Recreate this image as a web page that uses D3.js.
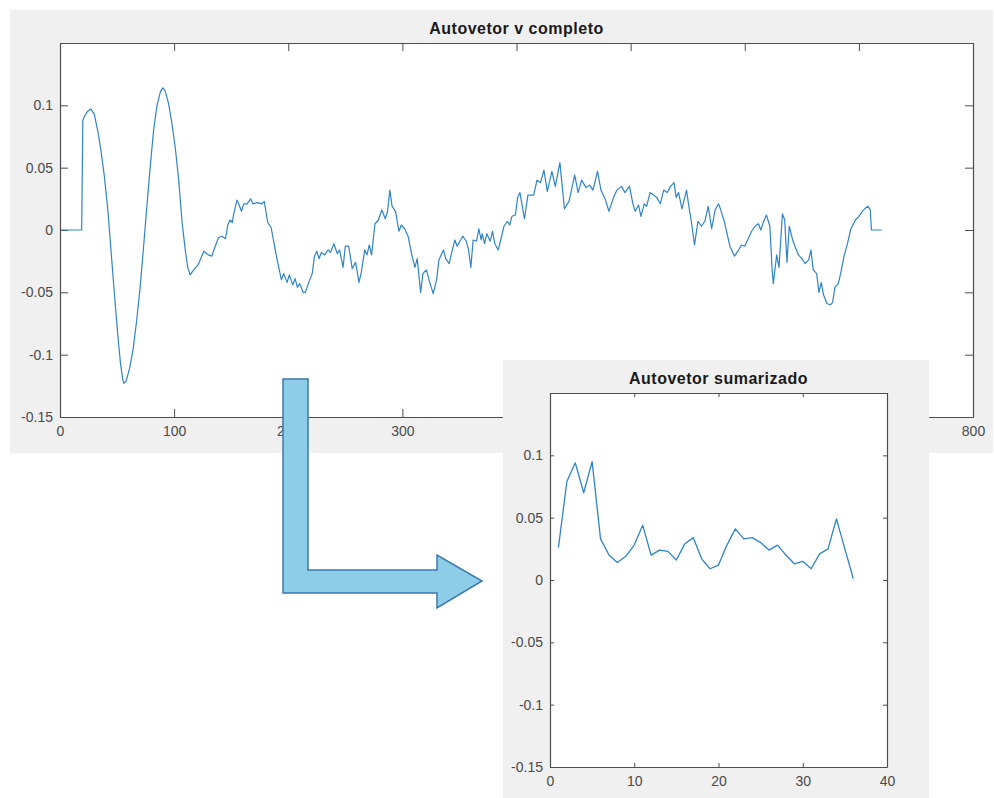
<!DOCTYPE html>
<html>
<head>
<meta charset="utf-8">
<script src="https://cdn.jsdelivr.net/npm/d3@7"></script>
<style>
  html, body { margin: 0; padding: 0; background: #ffffff; }
  svg { display: block; }
  .tick text { font-family: "Liberation Sans", Arial, sans-serif; font-size: 14px; fill: #4a4a4a; }
  .title { font-family: "Liberation Sans", Arial, sans-serif; font-size: 16px; font-weight: bold; fill: #1a1a1a; letter-spacing: 0.5px; }
</style>
</head>
<body>
<svg id="fig" width="994" height="798"></svg>
<script>
// Full eigenvector: [index, value]
const autovetorCompleto = [
  [1,0],[19,0],[20,0.088],[22,0.092],[24,0.095],[27,0.097],[30,0.093],[33,0.080],[36,0.063],[39,0.042],
  [42,0.015],[45,-0.020],[48,-0.055],[51,-0.088],[53,-0.107],[55,-0.120],[56,-0.123],[58,-0.121],[61,-0.111],
  [64,-0.096],[67,-0.074],[70,-0.048],[73,-0.016],[76,0.018],[79,0.050],[82,0.080],[85,0.100],[88,0.111],
  [90,0.114],[92,0.112],[95,0.102],[98,0.086],[101,0.066],[104,0.040],[107,0.006],[110,-0.018],[112,-0.030],
  [114,-0.036],[118,-0.031],[121,-0.028],[126,-0.017],[130,-0.020],[133,-0.021],[136,-0.013],[139,-0.006],
  [142,-0.005],[145,-0.007],[147,0.004],[149,0.008],[151,0.006],[152,0.012],[155,0.024],[157,0.020],[159,0.015],
  [161,0.021],[164,0.021],[167,0.025],[169,0.021],[173,0.022],[177,0.021],[179,0.023],[182,0.006],[185,0.002],
  [188,-0.013],[191,-0.027],[194,-0.040],[196,-0.035],[199,-0.042],[201,-0.036],[204,-0.044],[206,-0.039],
  [208,-0.046],[210,-0.043],[213,-0.050],[215,-0.050],[218,-0.042],[221,-0.035],[223,-0.021],[225,-0.017],
  [227,-0.023],[229,-0.018],[232,-0.020],[235,-0.016],[237,-0.018],[240,-0.011],[243,-0.019],[245,-0.016],
  [248,-0.030],[250,-0.013],[253,-0.013],[256,-0.031],[259,-0.026],[262,-0.042],[264,-0.034],[267,-0.016],
  [269,-0.020],[271,-0.012],[273,-0.020],[276,0.005],[279,0.008],[282,0.016],[285,0.009],[287,0.015],
  [289,0.032],[291,0.019],[294,0.015],[297,-0.001],[299,0.004],[302,0.001],[305,-0.005],[308,-0.019],
  [311,-0.030],[313,-0.023],[316,-0.050],[318,-0.035],[321,-0.032],[324,-0.042],[327,-0.051],[330,-0.040],
  [332,-0.024],[336,-0.016],[338,-0.023],[341,-0.027],[343,-0.019],[346,-0.008],[348,-0.013],[351,-0.008],
  [353,-0.005],[356,-0.009],[358,-0.016],[360,-0.030],[362,-0.008],[365,-0.009],[367,0.001],[369,-0.008],
  [370,-0.003],[372,-0.011],[374,-0.003],[377,-0.009],[379,-0.001],[381,-0.011],[384,-0.016],[387,-0.005],
  [389,0.003],[392,0.007],[394,0.004],[396,0.011],[399,0.012],[401,0.026],[403,0.030],[407,0.009],[410,0.028],
  [415,0.028],[418,0.040],[421,0.038],[424,0.048],[427,0.031],[431,0.047],[434,0.035],[438,0.054],[442,0.017],
  [446,0.023],[451,0.044],[454,0.030],[457,0.040],[461,0.034],[464,0.036],[467,0.032],[471,0.047],[474,0.032],
  [478,0.024],[481,0.015],[485,0.026],[488,0.032],[492,0.035],[495,0.030],[499,0.035],[502,0.021],[504,0.015],
  [507,0.020],[509,0.011],[512,0.021],[514,0.019],[517,0.030],[520,0.028],[523,0.026],[526,0.021],[529,0.032],
  [532,0.030],[535,0.035],[538,0.038],[540,0.026],[542,0.030],[545,0.017],[549,0.032],[551,0.019],[553,0.008],
  [556,-0.012],[559,0.007],[562,0.003],[565,0.007],[568,0.019],[571,0.001],[574,0.016],[577,0.021],[579,0.016],
  [582,0.007],[584,-0.001],[587,-0.013],[591,-0.021],[594,-0.017],[597,-0.012],[600,-0.013],[603,-0.007],
  [606,-0.001],[609,0.003],[612,0.005],[614,0.000],[617,0.008],[619,0.012],[622,0.003],[624,-0.032],
  [625,-0.043],[628,-0.020],[630,-0.030],[633,0.013],[635,0.008],[637,-0.026],[639,0.003],[642,-0.008],
  [644,-0.013],[647,-0.020],[650,-0.023],[653,-0.027],[656,-0.024],[658,-0.016],[660,-0.032],[663,-0.035],
  [665,-0.050],[667,-0.042],[669,-0.052],[672,-0.059],[675,-0.060],[677,-0.058],[679,-0.046],[682,-0.043],
  [684,-0.035],[687,-0.021],[690,-0.011],[693,0.001],[697,0.008],[700,0.011],[703,0.015],[705,0.017],
  [708,0.019],[710,0.016],[711,0],[720,0]
];

// Summarized eigenvector: one value per block (1..36)
const autovetorSumarizado = [
  0.026, 0.079, 0.094, 0.070, 0.095, 0.033, 0.020, 0.014, 0.019, 0.028,
  0.044, 0.020, 0.024, 0.023, 0.016, 0.029, 0.034, 0.017, 0.009, 0.012,
  0.028, 0.041, 0.033, 0.034, 0.030, 0.024, 0.028, 0.020, 0.013, 0.015,
  0.009, 0.021, 0.025, 0.049, 0.025, 0.001
];

const yTicks = [-0.15, -0.1, -0.05, 0, 0.05, 0.1];
const xTicksCompleto = [0, 100, 200, 300, 400, 500, 600, 700, 800];
const xTicksSumarizado = [0, 10, 20, 30, 40];

const svg = d3.select("#fig");
const lineColor = "#2f84c6";
const axisColor = "#4d4d4d";
const fmt = d => (d === 0 ? "0" : String(+d.toFixed(2)));

// Draws a MATLAB-like axes box with inward ticks on all four sides
function drawAxes(g, x, y, xTicks, tickLen, title) {
  const [x0, x1] = x.range();
  const [y0, y1] = y.range(); // y0 bottom, y1 top
  g.append("rect").attr("x", x0).attr("y", y1).attr("width", x1 - x0).attr("height", y0 - y1)
    .attr("fill", "#ffffff");

  const bottom = g.append("g").attr("transform", `translate(0,${y0})`)
    .call(d3.axisBottom(x).tickValues(xTicks).tickFormat(fmt).tickSizeInner(-tickLen).tickSizeOuter(0).tickPadding(9));
  const top = g.append("g").attr("transform", `translate(0,${y1})`)
    .call(d3.axisTop(x).tickValues(xTicks).tickFormat("").tickSizeInner(-tickLen).tickSizeOuter(0));
  const left = g.append("g").attr("transform", `translate(${x0},0)`)
    .call(d3.axisLeft(y).tickValues(yTicks).tickFormat(fmt).tickSizeInner(-tickLen).tickSizeOuter(0).tickPadding(7));
  const right = g.append("g").attr("transform", `translate(${x1},0)`)
    .call(d3.axisRight(y).tickValues(yTicks).tickFormat("").tickSizeInner(-tickLen).tickSizeOuter(0));
  [bottom, top, left, right].forEach(a => {
    a.selectAll(".domain").attr("stroke", axisColor).attr("stroke-width", 1.2);
    a.selectAll(".tick line").attr("stroke", axisColor).attr("stroke-width", 1);
  });
  // tick marks at the very ends of x are hidden under the box edges
  g.append("text").attr("class", "title")
    .attr("x", (x0 + x1) / 2).attr("y", y1 - 9).attr("text-anchor", "middle").text(title);
}

// --- Full eigenvector panel ---
const gTop = svg.append("g");
gTop.append("rect").attr("x", 10).attr("y", 10).attr("width", 983).attr("height", 443).attr("fill", "#f0f0f0");
const xC = d3.scaleLinear().domain([0, 800]).range([60, 973]);
const yC = d3.scaleLinear().domain([-0.15, 0.15]).range([417, 43]);
drawAxes(gTop, xC, yC, xTicksCompleto, 8, "Autovetor v completo");
gTop.append("path").datum(autovetorCompleto)
  .attr("fill", "none").attr("stroke", lineColor).attr("stroke-width", 1.2).attr("stroke-linejoin", "round")
  .attr("d", d3.line().x(d => xC(d[0])).y(d => yC(d[1])));

// --- Summarized eigenvector panel ---
const gIn = svg.append("g");
gIn.append("rect").attr("x", 503).attr("y", 360).attr("width", 426).attr("height", 438).attr("fill", "#f0f0f0");
const xS = d3.scaleLinear().domain([0, 40]).range([550, 887]);
const yS = d3.scaleLinear().domain([-0.15, 0.15]).range([767, 393]);
drawAxes(gIn, xS, yS, xTicksSumarizado, 4, "Autovetor sumarizado");
gIn.append("path").datum(autovetorSumarizado)
  .attr("fill", "none").attr("stroke", lineColor).attr("stroke-width", 1.3).attr("stroke-linejoin", "round")
  .attr("d", d3.line().x((d, i) => xS(i + 1)).y(d => yS(d)));

// --- Bent arrow linking the two panels ---
const arrow = [[283,379],[308,379],[308,570],[437,570],[437,555],[482,581],[437,608],[437,593],[283,593]];
svg.append("path")
  .attr("d", d3.line()(arrow) + "Z")
  .attr("fill", "#8dcde8").attr("stroke", "#3b78ad").attr("stroke-width", 1.5).attr("stroke-linejoin", "miter");
</script>
</body>
</html>
